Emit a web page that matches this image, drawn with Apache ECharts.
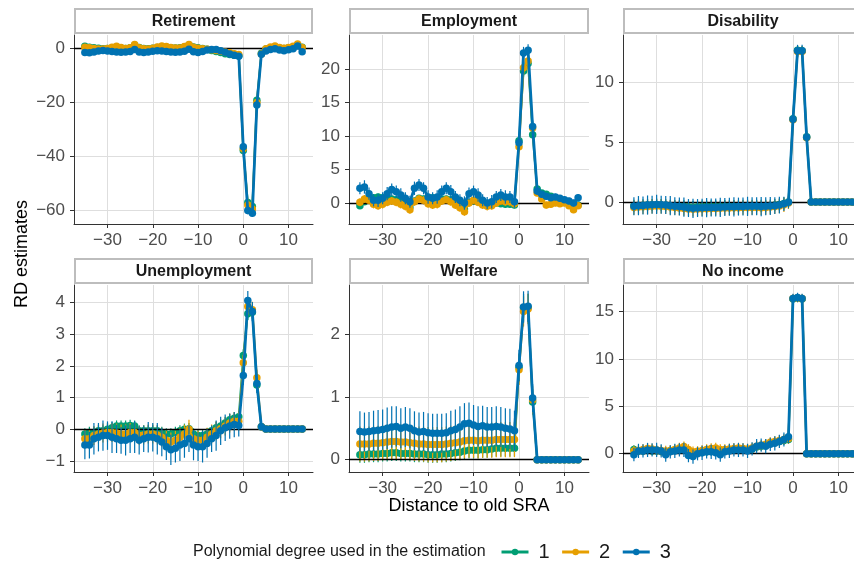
<!DOCTYPE html>
<html>
<head>
<meta charset="utf-8">
<script src="https://cdn.jsdelivr.net/npm/echarts@6/dist/echarts.min.js"></script>
<style>
html,body{margin:0;padding:0;background:#fff;}
#chart{width:854px;height:566px;}
</style>
</head>
<body>
<div id="chart"></div>
<script>
// ---------------- DATA ----------------
const xDistance = [-35,-34,-33,-32,-31,-30,-29,-28,-27,-26,-25,-24,-23,-22,-21,-20,-19,-18,-17,-16,-15,-14,-13,-12,-11,-10,-9,-8,-7,-6,-5,-4,-3,-2,-1,0,1,2,3,4,5,6,7,8,9,10,11,12,13];
const xTickValues = [-30,-20,-10,0,10];
const panelTitles = ['Retirement','Employment','Disability','Unemployment','Welfare','No income'];
const degreeLabels = ['1','2','3'];
const retirementTicks = [-60,-40,-20,0];
const employmentTicks = [0,5,10,15,20];
const disabilityTicks = [0,5,10];
const unemploymentTicks = [-1,0,1,2,3,4];
const welfareTicks = [0,1,2];
const noIncomeTicks = [0,5,10,15];

const retirementDeg1 = [0.6,0.3,0.1,-0.1,-0.3, -0.2,0.1,0.2,0.0,-0.2, 0.1,1.0,0.2,-0.2,-0.3, -0.1,0.2,0.4,0.3,0.1, 0.0,0.1,0.4,1.1,0.4, 0.1,-0.2,-0.5,-0.9,-1.3, -1.7,-2.1,-2.4,-2.7,-2.9, -38.0,-57.2,-58.7,-19.4,-2.0, -0.4,0.1,0.4,0.0,-0.2,0.1,0.4,1.1,0.3];
const retirementDeg2 = [0.3,0.1,-0.2,-0.4,-0.4, -0.2,0.3,0.6,0.2,-0.2, 0.1,1.3,0.1,-0.3,-0.4, -0.1,0.4,0.7,0.5,0.2, 0.0,0.0,0.5,1.3,0.3, -0.1,-0.3,-0.5,-0.7,-0.9, -1.2,-1.5,-1.8,-2.1,-2.4, -37.3,-58.2,-59.6,-20.2,-2.2, -0.3,0.4,0.7,0.2,-0.1,0.2,0.6,1.5,0.2];
const retirementDeg3 = [-1.7,-1.8,-1.5,-1.1,-0.9, -1.1,-1.3,-1.5,-1.6,-1.5, -1.3,-0.6,-1.5,-1.7,-1.5, -1.2,-1.0,-1.1,-1.3,-1.5, -1.6,-1.5,-1.2,-0.5,-1.4, -1.7,-1.3,-0.8,-0.6,-0.6, -1.0,-1.6,-2.2,-2.7,-3.1, -36.6,-60.2,-61.2,-21.1,-2.3, -1.1,-0.6,-0.3,-0.8,-1.0,-0.7,-0.3,0.7,-1.4];
const retirementSe1 = [0.6,0.6,0.6,0.6,0.6, 0.6,0.6,0.6,0.6,0.6, 0.6,0.6,0.6,0.6,0.6, 0.6,0.6,0.6,0.6,0.6, 0.6,0.6,0.6,0.6,0.6, 0.6,0.6,0.6,0.6,0.6, 0.6,0.6,0.6,0.6,0.6, 1.0,1.2,1.2,1.0,0.6, 0.5,0.5,0.5,0.5,0.5,0.5,0.5,0.5,0.5];
const retirementSe2 = [0.7,0.7,0.7,0.7,0.7, 0.7,0.7,0.7,0.7,0.7, 0.7,0.7,0.7,0.7,0.7, 0.7,0.7,0.7,0.7,0.7, 0.7,0.7,0.7,0.7,0.7, 0.7,0.7,0.7,0.7,0.7, 0.7,0.7,0.7,0.7,0.7, 1.1,1.3,1.3,1.1,0.7, 0.6,0.6,0.6,0.6,0.6,0.6,0.6,0.6,0.6];
const retirementSe3 = [0.9,0.9,0.9,0.9,0.9, 0.9,0.9,0.9,0.9,0.9, 0.9,0.9,0.9,0.9,0.9, 0.9,0.9,0.9,0.9,0.9, 0.9,0.9,0.9,0.9,0.9, 0.9,0.9,0.9,0.9,0.9, 0.9,0.9,0.9,0.9,0.9, 1.2,1.4,1.4,1.2,0.8, 0.7,0.7,0.7,0.7,0.7,0.7,0.7,0.7,0.7];

const employmentDeg1 = [-0.4,0.2,0.7,0.8,0.9, 0.8,0.8,0.6,0.5,0.3, -0.1,-0.6,0.3,0.7,0.6, 0.5,0.8,0.7,0.6,0.6, 0.5,0.2,-0.2,-0.9,0.1, 0.3,0.2,0.0,-0.2,-0.2, 0.0,-0.1,-0.2,-0.2,-0.3, 9.3,19.7,20.8,10.2,2.1, 1.5,1.3,1.0,0.7,0.5,0.2,-0.1,-0.6,-0.3];
const employmentDeg2 = [0.1,0.6,0.4,-0.2,-0.4, -0.2,0.1,0.3,0.1,-0.2, -0.5,-1.0,0.2,0.6,0.4, -0.1,-0.3,-0.2,0.3,0.5, 0.2,-0.3,-0.7,-1.3,0.0, 0.4,0.1,-0.3,-0.5,-0.4, 0.0,0.3,0.2,0.2,-0.1, 8.4,20.2,21.2,11.2,1.5, 0.6,-0.3,-0.2,0.0,-0.1,0.0,-0.4,-1.0,-0.4];
const employmentDeg3 = [2.2,2.4,1.4,0.4,0.4, 0.7,1.4,2.0,1.7,1.2, 0.7,0.2,2.2,2.7,2.2, 0.9,0.7,0.9,1.7,2.2, 1.7,0.9,0.4,0.0,1.4, 1.7,1.2,0.4,0.0,0.2, 0.9,1.2,0.9,0.9,0.2, 9.0,22.4,22.8,11.4,1.8, 1.3,1.0,0.8,0.9,0.7,0.5,0.3,0.0,0.8];
const employmentSe1 = [0.5,0.5,0.5,0.5,0.5, 0.5,0.5,0.5,0.5,0.5, 0.5,0.5,0.5,0.5,0.5, 0.5,0.5,0.5,0.5,0.5, 0.5,0.5,0.5,0.5,0.5, 0.5,0.5,0.5,0.5,0.5, 0.5,0.5,0.5,0.5,0.5, 0.8,0.8,0.8,0.8,0.5, 0.4,0.4,0.4,0.4,0.4,0.4,0.4,0.4,0.4];
const employmentSe2 = [0.6,0.6,0.6,0.6,0.6, 0.6,0.6,0.6,0.6,0.6, 0.6,0.6,0.6,0.6,0.6, 0.6,0.6,0.6,0.6,0.6, 0.6,0.6,0.6,0.6,0.6, 0.6,0.6,0.6,0.6,0.6, 0.6,0.6,0.6,0.6,0.6, 0.8,0.8,0.8,0.8,0.5, 0.5,0.5,0.5,0.5,0.5,0.5,0.5,0.5,0.5];
const employmentSe3 = [0.9,1.0,0.9,0.9,1.0, 0.9,1.0,0.9,0.9,1.0, 0.9,0.9,1.0,0.9,0.9, 1.0,0.9,1.0,0.9,0.9, 1.0,0.9,0.9,1.0,0.9, 0.9,1.0,0.9,0.9,1.0, 0.9,0.9,1.0,0.9,0.9, 0.9,0.9,0.9,0.9,0.6, 0.5,0.5,0.5,0.5,0.5,0.5,0.5,0.5,0.5];

const disabilityDeg1 = [-0.3,-0.28,-0.26,-0.25,-0.24, -0.22,-0.24,-0.27,-0.3,-0.32, -0.34,-0.36,-0.4,-0.42,-0.4, -0.38,-0.37,-0.36,-0.35,-0.35, -0.34,-0.33,-0.32,-0.32,-0.31, -0.3,-0.3,-0.3,-0.31,-0.3, -0.28,-0.25,-0.2,-0.12,0.0, 6.95,12.65,12.6,5.45,0, 0,0,0,0,0,0,0,0,0];
const disabilityDeg2 = [-0.45,-0.42,-0.4,-0.38,-0.35, -0.33,-0.35,-0.38,-0.42,-0.46, -0.5,-0.54,-0.58,-0.6,-0.58, -0.56,-0.55,-0.54,-0.53,-0.52, -0.5,-0.5,-0.48,-0.47,-0.46, -0.45,-0.45,-0.46,-0.47,-0.45, -0.42,-0.38,-0.32,-0.22,-0.08, 6.85,12.55,12.55,5.35,0, 0,0,0,0,0,0,0,0,0];
const disabilityDeg3 = [-0.35,-0.3,-0.28,-0.25,-0.22, -0.2,-0.22,-0.25,-0.3,-0.35, -0.38,-0.42,-0.5,-0.52,-0.5, -0.48,-0.46,-0.45,-0.45,-0.44, -0.42,-0.4,-0.4,-0.38,-0.38, -0.36,-0.35,-0.36,-0.38,-0.36, -0.33,-0.3,-0.25,-0.15,-0.02, 6.9,12.6,12.6,5.4,0, 0,0,0,0,0,0,0,0,0];
const disabilitySe1 = [0.5,0.5,0.5,0.5,0.5, 0.5,0.5,0.5,0.5,0.5, 0.5,0.5,0.5,0.5,0.5, 0.5,0.5,0.5,0.5,0.5, 0.5,0.5,0.5,0.5,0.5, 0.5,0.5,0.5,0.5,0.5, 0.5,0.5,0.5,0.5,0.4, 0.4,0.4,0.4,0.4,0, 0,0,0,0,0,0,0,0,0];
const disabilitySe2 = [0.6,0.6,0.6,0.6,0.6, 0.6,0.6,0.6,0.6,0.6, 0.6,0.6,0.6,0.6,0.6, 0.6,0.6,0.6,0.6,0.6, 0.6,0.6,0.6,0.6,0.6, 0.6,0.6,0.6,0.6,0.6, 0.6,0.6,0.6,0.6,0.5, 0.45,0.45,0.45,0.45,0, 0,0,0,0,0,0,0,0,0];
const disabilitySe3 = [0.75,0.8,0.75,0.8,0.75, 0.8,0.75,0.75,0.8,0.75, 0.75,0.8,0.75,0.8,0.75, 0.75,0.8,0.75,0.75,0.8, 0.75,0.75,0.8,0.75,0.75, 0.8,0.75,0.75,0.8,0.75, 0.75,0.7,0.7,0.6,0.5, 0.5,0.5,0.5,0.5,0, 0,0,0,0,0,0,0,0,0];

const unemploymentDeg1 = [-0.15,-0.1,-0.1,-0.05,-0.05, 0.0,0.05,0.1,0.1,0.1, 0.12,0.1,-0.05,-0.05,-0.05, -0.05,-0.05,-0.1,-0.15,-0.15, -0.1,-0.05,0.0,0.02,-0.15, -0.2,-0.2,-0.15,-0.05,0.05, 0.1,0.2,0.3,0.35,0.4, 2.33,3.65,3.7,1.4,0.08, 0.01,0.01,0.01,0.01,0.01,0.01,0.01,0.01,0.01];
const unemploymentDeg2 = [-0.3,-0.3,-0.2,-0.15,-0.12, -0.1,-0.1,-0.12,-0.15,-0.15, -0.1,-0.1,-0.2,-0.18,-0.15, -0.15,-0.18,-0.25,-0.35,-0.4, -0.35,-0.25,-0.15,0.0,-0.3, -0.35,-0.35,-0.25,-0.15,-0.05, 0.02,0.1,0.2,0.25,0.25, 2.1,3.88,3.78,1.63,0.08, 0.01,0.01,0.01,0.01,0.01,0.01,0.01,0.01,0.01];
const unemploymentDeg3 = [-0.5,-0.5,-0.3,-0.25,-0.2, -0.2,-0.25,-0.3,-0.35,-0.35, -0.3,-0.25,-0.35,-0.3,-0.25, -0.25,-0.3,-0.4,-0.55,-0.65, -0.6,-0.5,-0.45,-0.3,-0.5, -0.55,-0.55,-0.45,-0.3,-0.2, -0.05,0.05,0.1,0.15,0.12, 1.7,4.07,3.72,1.45,0.08, 0.01,0.01,0.01,0.01,0.01,0.01,0.01,0.01,0.01];
const unemploymentSe1 = [0.18,0.18,0.18,0.18,0.18, 0.18,0.18,0.18,0.18,0.18, 0.18,0.18,0.18,0.18,0.18, 0.18,0.18,0.18,0.18,0.18, 0.18,0.18,0.18,0.18,0.18, 0.18,0.18,0.18,0.18,0.18, 0.18,0.18,0.18,0.18,0.18, 0.2,0.2,0.2,0.2,0.03, 0.02,0.02,0.02,0.02,0.02,0.02,0.02,0.02,0.02];
const unemploymentSe2 = [0.3,0.3,0.3,0.3,0.3, 0.3,0.3,0.3,0.3,0.3, 0.3,0.3,0.3,0.3,0.3, 0.3,0.3,0.3,0.3,0.3, 0.3,0.3,0.3,0.3,0.3, 0.3,0.3,0.3,0.3,0.3, 0.3,0.3,0.3,0.3,0.3, 0.25,0.25,0.25,0.25,0.03, 0.02,0.02,0.02,0.02,0.02,0.02,0.02,0.02,0.02];
const unemploymentSe3 = [0.45,0.42,0.5,0.45,0.48, 0.45,0.5,0.45,0.42,0.48, 0.45,0.5,0.45,0.42,0.48, 0.45,0.5,0.45,0.42,0.48, 0.45,0.5,0.45,0.42,0.48, 0.45,0.5,0.45,0.42,0.48, 0.45,0.42,0.4,0.4,0.35, 0.3,0.3,0.3,0.3,0.04, 0.03,0.03,0.03,0.03,0.03,0.03,0.03,0.03,0.03];

const welfareDeg1 = [0.08,0.08,0.09,0.09,0.09, 0.1,0.1,0.11,0.11,0.1, 0.1,0.1,0.09,0.09,0.09, 0.08,0.08,0.08,0.09,0.09, 0.1,0.11,0.12,0.14,0.15, 0.15,0.15,0.16,0.16,0.17, 0.18,0.18,0.18,0.18,0.18, 1.47,2.42,2.42,0.92,0, 0,0,0,0,0,0,0,0,0];
const welfareDeg2 = [0.25,0.25,0.25,0.26,0.26, 0.27,0.28,0.29,0.29,0.28, 0.28,0.27,0.26,0.25,0.25, 0.24,0.24,0.24,0.24,0.25, 0.26,0.27,0.28,0.3,0.31, 0.31,0.3,0.31,0.31,0.31, 0.32,0.32,0.32,0.32,0.32, 1.43,2.36,2.4,0.95,0, 0,0,0,0,0,0,0,0,0];
const welfareDeg3 = [0.45,0.44,0.45,0.46,0.47, 0.48,0.5,0.52,0.53,0.5, 0.52,0.5,0.46,0.44,0.45, 0.43,0.42,0.42,0.42,0.43, 0.46,0.48,0.52,0.57,0.58, 0.55,0.53,0.54,0.52,0.52, 0.53,0.52,0.5,0.49,0.46, 1.5,2.43,2.44,0.98,0, 0,0,0,0,0,0,0,0,0];
const welfareSe1 = [0.13,0.13,0.13,0.13,0.13, 0.13,0.13,0.13,0.13,0.13, 0.13,0.13,0.13,0.13,0.13, 0.13,0.13,0.13,0.13,0.13, 0.13,0.13,0.13,0.13,0.13, 0.13,0.13,0.13,0.13,0.13, 0.13,0.13,0.13,0.13,0.13, 0.22,0.22,0.22,0.2,0, 0,0,0,0,0,0,0,0,0];
const welfareSe2 = [0.28,0.28,0.28,0.28,0.28, 0.28,0.28,0.28,0.28,0.28, 0.28,0.28,0.28,0.28,0.28, 0.28,0.28,0.28,0.28,0.28, 0.28,0.28,0.28,0.28,0.28, 0.28,0.28,0.28,0.28,0.28, 0.28,0.28,0.28,0.28,0.28, 0.24,0.24,0.24,0.22,0, 0,0,0,0,0,0,0,0,0];
const welfareSe3 = [0.32,0.31,0.31,0.32,0.32, 0.32,0.33,0.33,0.32,0.32, 0.32,0.32,0.31,0.31,0.31, 0.31,0.31,0.31,0.31,0.31, 0.32,0.32,0.33,0.33,0.33, 0.32,0.32,0.32,0.32,0.32, 0.32,0.32,0.32,0.32,0.32, 0.25,0.25,0.25,0.22,0, 0,0,0,0,0,0,0,0,0];

const noIncomeDeg1 = [0.45,0.3,0.3,0.35,0.3, 0.3,0.25,0.2,0.3,0.4, 0.5,0.55,0.3,0.1,0.1, 0.15,0.2,0.25,0.3,0.3, 0.35,0.4,0.45,0.45,0.45, 0.4,0.5,0.7,0.8,0.9, 1.1,1.2,1.3,1.4,1.5, 16.35,16.45,16.35,0,0, 0,0,0,0,0,0,0,0,0];
const noIncomeDeg2 = [0.3,0.35,0.45,0.55,0.5, 0.4,0.35,0.3,0.35,0.45, 0.6,0.75,0.45,0.2,0.25, 0.35,0.45,0.55,0.6,0.45, 0.45,0.5,0.55,0.6,0.55, 0.5,0.6,0.8,0.9,1.0, 1.2,1.3,1.4,1.5,1.6, 16.4,16.45,16.4,0,0, 0,0,0,0,0,0,0,0,0];
const noIncomeDeg3 = [-0.1,0.3,0.3,0.4,0.4, 0.4,0.3,-0.1,0.2,0.3, 0.4,0.4,-0.2,-0.3,0.0, 0.1,0.2,0.2,0.1,-0.1, 0.2,0.3,0.4,0.4,0.4, 0.3,0.5,0.8,0.9,0.8, 1.0,1.1,1.3,1.5,1.8, 16.4,16.5,16.4,0,0, 0,0,0,0,0,0,0,0,0];
const noIncomeSe1 = [0.45,0.45,0.45,0.45,0.45, 0.45,0.45,0.45,0.45,0.45, 0.45,0.45,0.45,0.45,0.45, 0.45,0.45,0.45,0.45,0.45, 0.45,0.45,0.45,0.45,0.45, 0.45,0.45,0.45,0.45,0.45, 0.45,0.45,0.45,0.45,0.45, 0.4,0.4,0.4,0,0, 0,0,0,0,0,0,0,0,0];
const noIncomeSe2 = [0.55,0.55,0.55,0.55,0.55, 0.55,0.55,0.55,0.55,0.55, 0.55,0.55,0.55,0.55,0.55, 0.55,0.55,0.55,0.55,0.55, 0.55,0.55,0.55,0.55,0.55, 0.55,0.55,0.55,0.55,0.55, 0.55,0.55,0.55,0.55,0.55, 0.45,0.45,0.45,0,0, 0,0,0,0,0,0,0,0,0];
const noIncomeSe3 = [0.7,0.75,0.7,0.75,0.7, 0.75,0.7,0.75,0.7,0.75, 0.7,0.75,0.7,0.75,0.7, 0.75,0.7,0.75,0.7,0.75, 0.7,0.75,0.7,0.75,0.7, 0.75,0.7,0.75,0.7,0.75, 0.7,0.75,0.7,0.75,0.7, 0.5,0.5,0.5,0,0, 0,0,0,0,0,0,0,0,0];

// ---------------- LAYOUT / STYLE ----------------
const FONT = '"Liberation Sans", Arial, Helvetica, sans-serif';
const colors = ['#009E73', '#E69F00', '#0072B2'];
const lineWidths = [2, 2, 2.8];
const gridRects = [
  {left:74, top:35, width:239, height:189},
  {left:349, top:35, width:240, height:189},
  {left:623, top:35, width:240, height:189},
  {left:74, top:285, width:239, height:187},
  {left:349, top:285, width:240, height:187},
  {left:623, top:285, width:240, height:187}
];
const yRanges = [[-65.2, 4.8], [-3.13, 25.07], [-1.83, 13.92], [-1.35, 4.56], [-0.196, 2.78], [-1.93, 17.82]];
const xRange = [-37.4, 15.4];

const panels = [
  {est:[retirementDeg1, retirementDeg2, retirementDeg3], se:[retirementSe1, retirementSe2, retirementSe3], ticks: retirementTicks},
  {est:[employmentDeg1, employmentDeg2, employmentDeg3], se:[employmentSe1, employmentSe2, employmentSe3], ticks: employmentTicks},
  {est:[disabilityDeg1, disabilityDeg2, disabilityDeg3], se:[disabilitySe1, disabilitySe2, disabilitySe3], ticks: disabilityTicks},
  {est:[unemploymentDeg1, unemploymentDeg2, unemploymentDeg3], se:[unemploymentSe1, unemploymentSe2, unemploymentSe3], ticks: unemploymentTicks},
  {est:[welfareDeg1, welfareDeg2, welfareDeg3], se:[welfareSe1, welfareSe2, welfareSe3], ticks: welfareTicks},
  {est:[noIncomeDeg1, noIncomeDeg2, noIncomeDeg3], se:[noIncomeSe1, noIncomeSe2, noIncomeSe3], ticks: noIncomeTicks}
];

const fmt = v => (v < 0 ? '\u2212' + Math.abs(v) : String(v));

const grids = gridRects.map(r => Object.assign({containLabel:false, outerBoundsMode:'none', show:false}, r));

const axisCommon = (i, ticks, margin) => ({
  type:'value', gridIndex:i, scale:true,
  axisLine:{show:true, onZero:false, lineStyle:{color:'#333333', width:1}},
  axisTick:{show:true, length:4, customValues:ticks, lineStyle:{color:'#333333', width:1}},
  axisLabel:{show:true, customValues:ticks, formatter:fmt, color:'#4d4d4d', fontSize:17, fontFamily:FONT, margin:margin},
  splitLine:{show:true, lineStyle:{color:'#dedede', width:1}},
  minorSplitLine:{show:false}
});

const xAxes = panels.map((p, i) => Object.assign(axisCommon(i, xTickValues, 8), {min:xRange[0], max:xRange[1]}));
const yAxes = panels.map((p, i) => Object.assign(axisCommon(i, p.ticks, 9), {min:yRanges[i][0], max:yRanges[i][1]}));

const series = [];
panels.forEach((p, i) => {
  p.est.forEach((est, d) => {
    const se = p.se[d];
    const col = colors[d];
    series.push({
      type:'custom', name:'ci' + d, xAxisIndex:i, yAxisIndex:i, z:2 + d * 2, silent:true, clip:true,
      data: xDistance.map((x, j) => [x, est[j] - se[j], est[j] + se[j]]),
      encode:{x:0, y:[1,2]},
      renderItem: (params, api) => {
        const a = api.coord([api.value(0), api.value(1)]);
        const b = api.coord([api.value(0), api.value(2)]);
        return {type:'line', shape:{x1:a[0], y1:a[1], x2:b[0], y2:b[1]}, style:{stroke:col, lineWidth:1.2}};
      }
    });
    const line = {
      type:'line', name:degreeLabels[d], xAxisIndex:i, yAxisIndex:i, z:3 + d * 2, silent:true,
      data: xDistance.map((x, j) => [x, est[j]]),
      symbol:'circle', symbolSize:7.5, showSymbol:true, showAllSymbol:true,
      color:col,
      lineStyle:{color:col, width:lineWidths[d]},
      itemStyle:{color:col, borderWidth:0}
    };
    if (d === 1) {
      line.markLine = {
        silent:true, symbol:['none','none'], label:{show:false}, animation:false,
        lineStyle:{color:'#000000', width:1.3, type:'solid'},
        data:[{yAxis:0}]
      };
    }
    series.push(line);
  });
});

const graphics = [];
panelTitles.forEach((t, i) => {
  const r = gridRects[i];
  const top = i < 3 ? 9 : 259;
  graphics.push({type:'rect', shape:{x:r.left + 1, y:top, width:r.width - 2, height:24}, style:{fill:'#ffffff', stroke:'#bdbdbd', lineWidth:2}, silent:true});
  graphics.push({type:'text', x:r.left + r.width / 2, y:top + 12.5, style:{text:t, font:'bold 16px ' + FONT, fill:'#1a1a1a', align:'center', verticalAlign:'middle'}, silent:true});
});
graphics.push({type:'text', x:22, y:254, rotation:Math.PI / 2, style:{text:'RD estimates', font:'18px ' + FONT, fill:'#000000', align:'center', verticalAlign:'middle'}, silent:true});
graphics.push({type:'text', x:469, y:506, style:{text:'Distance to old SRA', font:'18px ' + FONT, fill:'#000000', align:'center', verticalAlign:'middle'}, silent:true});
graphics.push({type:'text', x:193, y:552, style:{text:'Polynomial degree used in the estimation', font:'16px ' + FONT, fill:'#1a1a1a', align:'left', verticalAlign:'middle'}, silent:true});

const chart = echarts.init(document.getElementById('chart'), null, {renderer:'canvas'});
chart.setOption({
  animation:false,
  backgroundColor:'#ffffff',
  textStyle:{fontFamily:FONT},
  grid: grids,
  xAxis: xAxes,
  yAxis: yAxes,
  legend:{
    data:degreeLabels, left:500, top:542, padding:0, itemWidth:27, itemHeight:8, itemGap:11,
    selectedMode:false,
    lineStyle:{width:3},
    textStyle:{fontSize:20, color:'#1a1a1a', fontFamily:FONT, padding:[0,0,0,5]}
  },
  graphic: graphics,
  series: series
});
</script>
</body>
</html>
